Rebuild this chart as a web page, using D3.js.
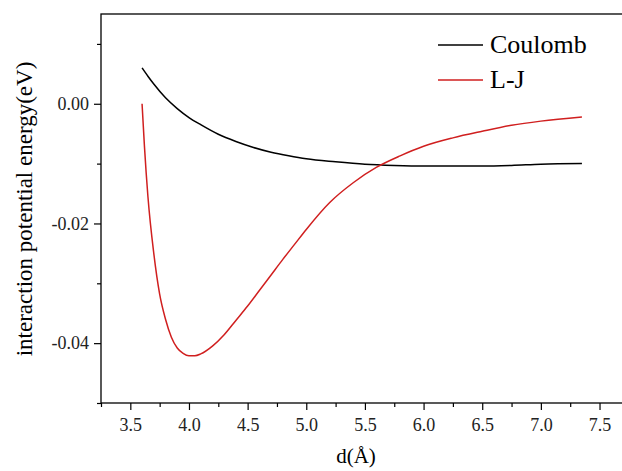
<!DOCTYPE html>
<html>
<head>
<meta charset="utf-8">
<script src="https://cdn.jsdelivr.net/npm/d3@7"></script>
<style>
  body { margin: 0; background: #fff; }
  svg { display: block; font-family: "Liberation Serif", "Times New Roman", serif; }
  svg text { font-family: "Liberation Serif", "Times New Roman", serif; }
</style>
</head>
<body>
<div id="chart"></div>
<script>
// distances in angstrom
let coulombD = [3.6, 3.65, 3.7, 3.8, 3.9, 4.0, 4.1, 4.25, 4.4, 4.55, 4.7, 4.85, 5.0, 5.25, 5.5, 5.75, 6.0, 6.25, 6.5, 6.75, 7.0, 7.35];
let coulombE = [0.006, 0.0046, 0.0033, 0.001, -0.0008, -0.0023, -0.0035, -0.0051, -0.0063, -0.0073, -0.0081, -0.0087, -0.0092, -0.0097, -0.0101, -0.0103, -0.0104, -0.0104, -0.0104, -0.0103, -0.0101, -0.0100];

let ljD = [3.6, 3.62, 3.65, 3.7, 3.75, 3.8, 3.85, 3.9, 3.95, 4.0, 4.05, 4.1, 4.2, 4.3, 4.4, 4.5, 4.6, 4.7, 4.8, 4.9, 5.0, 5.2, 5.4, 5.6, 5.8, 6.0, 6.25, 6.5, 6.75, 7.0, 7.35];
let ljE = [0.0, -0.007, -0.0155, -0.025, -0.0318, -0.036, -0.039, -0.0408, -0.0417, -0.0421, -0.0421, -0.0418, -0.0405, -0.0386, -0.0362, -0.0338, -0.0312, -0.0286, -0.026, -0.0235, -0.021, -0.0165, -0.0132, -0.0106, -0.0087, -0.0071, -0.0057, -0.0046, -0.0036, -0.0029, -0.0022];

let seriesNames = ["Coulomb", "L-J"];
let seriesColors = ["#000000", "#d01f1f"];

let xMajor = [3.5, 4.0, 4.5, 5.0, 5.5, 6.0, 6.5, 7.0, 7.5];
let xMinor = [3.25, 3.75, 4.25, 4.75, 5.25, 5.75, 6.25, 6.75, 7.25, 7.75];
let yMajor = [-0.04, -0.02, 0.0];
let yMinor = [-0.05, -0.03, -0.01, 0.01];

let svg = d3.select("#chart").append("svg").attr("width", 622).attr("height", 471);

let plotLeft = 101, plotTop = 14, plotBottom = 403;

let xScale = d3.scaleLinear().domain([3.25, 7.75]).range([plotLeft, plotLeft + 4.5 * 117.3]);
let yScale = d3.scaleLinear().domain([-0.05, 0.015]).range([plotBottom, plotTop]);

// frame
svg.append("rect")
  .attr("x", plotLeft).attr("y", plotTop)
  .attr("width", 640 - plotLeft).attr("height", plotBottom - plotTop)
  .attr("fill", "none").attr("stroke", "#000").attr("stroke-width", 1.3);

// minor ticks
svg.append("g")
  .attr("transform", "translate(0," + plotBottom + ")")
  .call(d3.axisBottom(xScale).tickValues(xMinor).tickSize(4).tickFormat(""))
  .call(g => g.select(".domain").remove());
svg.append("g")
  .attr("transform", "translate(" + plotLeft + ",0)")
  .call(d3.axisLeft(yScale).tickValues(yMinor).tickSize(4).tickFormat(""))
  .call(g => g.select(".domain").remove());

// major ticks
let xAxis = svg.append("g")
  .attr("transform", "translate(0," + plotBottom + ")")
  .call(d3.axisBottom(xScale).tickValues(xMajor).tickSize(7).tickPadding(8).tickFormat(d3.format(".1f")));
xAxis.select(".domain").remove();
xAxis.selectAll("text").style("font-size", "18px").attr("fill", "#222");

let yAxis = svg.append("g")
  .attr("transform", "translate(" + plotLeft + ",0)")
  .call(d3.axisLeft(yScale).tickValues(yMajor).tickSize(7).tickPadding(5)
    .tickFormat(d => d3.format(".2f")(d).replace("\u2212", "-")));
yAxis.select(".domain").remove();
yAxis.selectAll("text").style("font-size", "18px").attr("fill", "#222");

svg.selectAll(".tick line").attr("stroke", "#000").attr("stroke-width", 1.2);

// axis titles
svg.append("text")
  .attr("x", 356).attr("y", 463)
  .attr("text-anchor", "middle")
  .style("font-size", "21px")
  .text("d(Å)");

svg.append("text")
  .attr("transform", "translate(32,209) rotate(-90)")
  .attr("text-anchor", "middle")
  .style("font-size", "23px")
  .text("interaction potential energy(eV)");

// curves
let line = d3.line()
  .x(d => xScale(d[0]))
  .y(d => yScale(d[1]))
  .curve(d3.curveMonotoneX);

let series = [d3.zip(coulombD, coulombE), d3.zip(ljD, ljE)];

svg.selectAll(".curve")
  .data(series)
  .enter()
  .append("path")
  .attr("class", "curve")
  .attr("d", line)
  .attr("fill", "none")
  .attr("stroke", (d, i) => seriesColors[i])
  .attr("stroke-width", 1.5);

// legend
let legend = svg.selectAll(".legend")
  .data(seriesNames)
  .enter()
  .append("g")
  .attr("class", "legend")
  .attr("transform", (d, i) => "translate(438," + (45 + i * 35) + ")");

legend.append("line")
  .attr("x1", 0).attr("x2", 45)
  .attr("stroke", (d, i) => seriesColors[i])
  .attr("stroke-width", 1.3);

legend.append("text")
  .attr("x", 52).attr("y", 8)
  .style("font-size", "26px")
  .text(d => d);
</script>
</body>
</html>
